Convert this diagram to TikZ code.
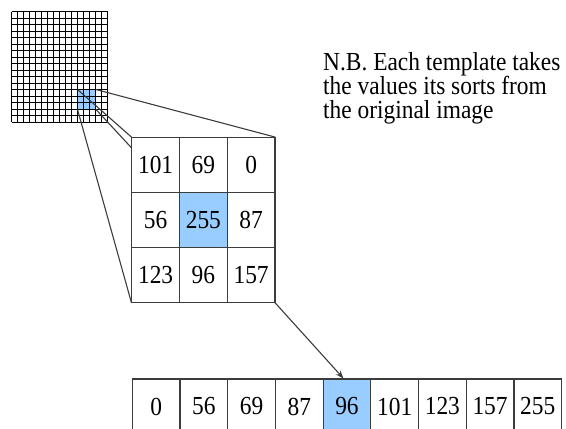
\documentclass[tikz,border=0pt]{standalone}
\usepackage{fontspec}
\setmainfont{Liberation Serif}[FakeStretch=0.9]
\usetikzlibrary{arrows.meta}
\definecolor{hl}{RGB}{153,204,255}
\definecolor{ln}{RGB}{60,60,60}
\begin{document}
\begin{tikzpicture}[x=1pt,y=-1pt,
  cell/.style={draw=ln,line width=1.2pt,minimum width=47.75pt,minimum height=55.1pt,inner sep=0pt,font=\fontsize{26}{30}\selectfont},
  rowcell/.style={cell,minimum width=47.7pt,minimum height=55pt},
  conn/.style={draw=ln,line width=1.1pt},
  gridln/.style={draw=black,line width=0.9pt},
  nb/.style={anchor=base west,inner sep=0pt,font=\fontsize{26}{24}\selectfont}]
\useasboundingbox (0,0) rectangle (566,429);
\clip (0,0) rectangle (566,429);
% small image grid
\node (img) [minimum width=96pt, minimum height=110.5pt, inner sep=0pt] at (59.7,66.95) {};
\node (patch) [fill=hl, minimum width=18pt, minimum height=19.5pt, inner sep=0pt] at (86.7,99.45) {};
\foreach \i in {0,...,16} \draw[gridln] (11.7+6*\i,11.7) -- (11.7+6*\i,122.2);
\foreach \j in {0,...,17} \draw[gridln] (11.7,11.7+6.5*\j) -- (107.7,11.7+6.5*\j);
% enlarged template
\node (big) [minimum width=143.3pt, minimum height=165.4pt, inner sep=0pt] at (203.35,220) {};
\draw[conn] (patch.north east) -- (big.north east);
\draw[conn] (patch.north west) -- (big.north west);
\draw[conn] (patch.south west) -- (big.south west);
\draw[conn] (patch.south east) -- (big.south east);
\fill[white] (big.north west) rectangle (big.south east);
\node[cell] (g11) at (155.6,164.9) {101};
\node[cell] (g12) at (203.35,164.9) {69};
\node[cell] (g13) at (251.1,164.9) {0};
\node[cell] (g21) at (155.6,220) {56};
\node[cell,fill=hl] (g22) at (203.35,220) {255};
\node[cell] (g23) at (251.1,220) {87};
\node[cell] (g31) at (155.6,275.1) {123};
\node[cell] (g32) at (203.35,275.1) {96};
\node[cell] (g33) at (251.1,275.1) {157};
% sorted row
\node[rowcell] (r0) at (156.15,406.5) {0};
\node[rowcell] (r1) at (203.85,406.5) {56};
\node[rowcell] (r2) at (251.55,406.5) {69};
\node[rowcell] (r3) at (299.25,406.5) {87};
\node[rowcell,fill=hl] (r4) at (346.95,406.5) {96};
\node[rowcell] (r5) at (394.65,406.5) {101};
\node[rowcell] (r6) at (442.35,406.5) {123};
\node[rowcell] (r7) at (490.05,406.5) {157};
\node[rowcell] (r8) at (537.75,406.5) {255};
\draw[conn,-{Stealth[length=8pt,width=6pt]}] (big.south east) -- ([xshift=-3.5pt]r4.north);
% note
\node[nb] (nb1) at (323,70.5) {N.B. Each template takes};
\node[nb] (nb2) at (323,94.5) {the values its sorts from};
\node[nb] (nb3) at (323,118.5) {the original image};
\end{tikzpicture}
\end{document}
